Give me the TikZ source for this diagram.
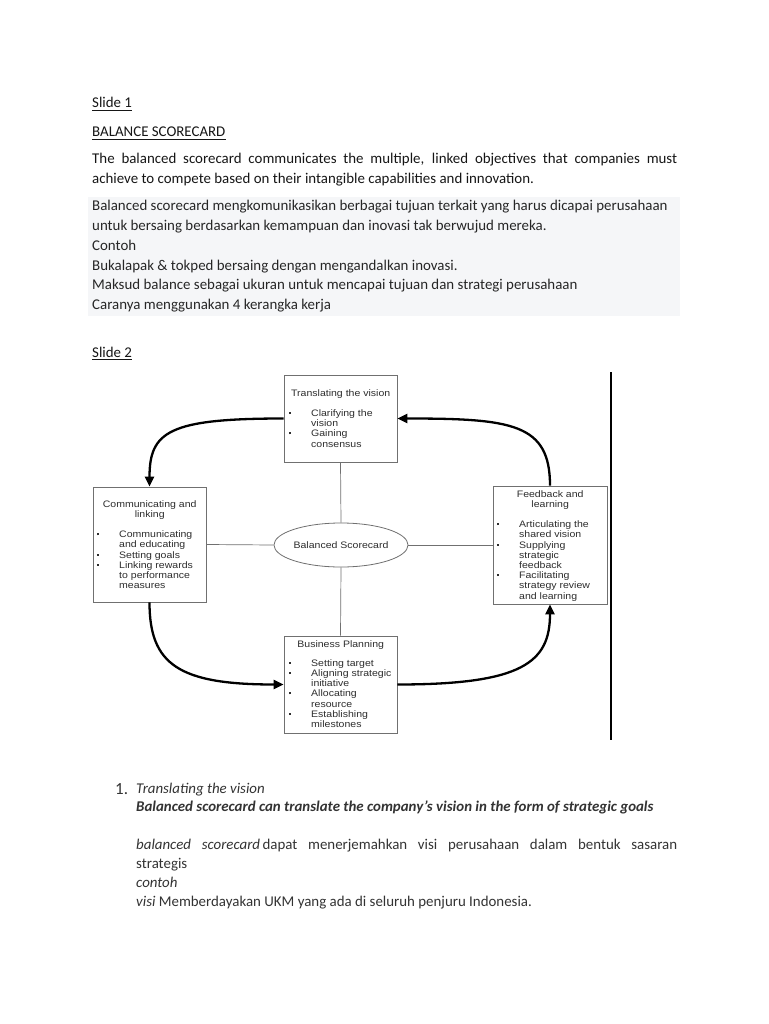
\documentclass[tikz,border=0pt]{standalone}
\usepackage{fontspec}
\setmainfont{Carlito}
\newfontfamily\arialf[FakeStretch=1.12]{Liberation Sans}
\usetikzlibrary{arrows.meta,shapes.geometric}
\definecolor{txt}{HTML}{161616}
\definecolor{txtb}{HTML}{262626}
\definecolor{txtc}{HTML}{333333}
\definecolor{greybg}{HTML}{F5F6F8}
\definecolor{boxline}{HTML}{707070}
\definecolor{dtxt}{HTML}{2E2E2E}
\newcommand\bsbul{\makebox[22pt][l]{\raisebox{2.4pt}{\rule{2.1pt}{2.1pt}}}}
\newcommand\bscont{\hspace*{22pt}}
\newcommand\bstitle[1]{\makebox[\linewidth][c]{#1}}
\newcommand\tightlines{\lineskiplimit=-20pt\relax\lineskip=0pt\relax}
\begin{document}
\begin{tikzpicture}[x=1pt,y=-1pt,
  body/.style={anchor=base west, inner sep=0pt, font=\fontsize{14.9}{19.7}\selectfont, text=txt},
  dbox/.style={draw=boxline, line width=0.8pt, inner sep=0pt, rectangle},
  dtext/.style={anchor=base west, inner sep=0pt, font=\arialf\fontsize{9.4}{10.2}\selectfont, text=dtxt},
  thinline/.style={draw=boxline, line width=0.7pt},
  arr/.style={line width=2.3pt, -{Triangle[length=10pt,width=9pt]}},
  uline/.style={line width=0.8pt, draw=txt}]

\fill[white] (0,0) rectangle (768,1024);
\useasboundingbox (0,0) rectangle (768,1024);

% ---------- Slide 1 ----------
\node[body] (s1) at (92,108) {Slide 1};
\draw[uline] ([yshift=-2.6pt]s1.base west) -- ([yshift=-2.6pt]s1.base east);
\node[body] (bsc) at (92,137) {BALANCE SCORECARD};
\draw[uline] ([yshift=-2.6pt]bsc.base west) -- ([yshift=-2.6pt]bsc.base east);

\node[body] (p1) at (92,164) {\makebox[585pt][s]{The balanced scorecard communicates the multiple, linked objectives that companies must}};
\node[body] (p2) at (92,184) {achieve to compete based on their intangible capabilities and innovation.};

\fill[greybg] (88,197) rectangle (680,316);
\node[body, text=txtb] (g1) at (92,211) {Balanced scorecard mengkomunikasikan berbagai tujuan terkait yang harus dicapai perusahaan};
\node[body, text=txtb] (g2) at (92,231) {untuk bersaing berdasarkan kemampuan dan inovasi tak berwujud mereka.};
\node[body, text=txtb] (g3) at (92,250) {Contoh};
\node[body, text=txtb] (g4) at (92,270) {Bukalapak \& tokped bersaing dengan mengandalkan inovasi.};
\node[body, text=txtb] (g5) at (92,289) {Maksud balance sebagai ukuran untuk mencapai tujuan dan strategi perusahaan};
\node[body, text=txtb] (g6) at (92,309) {Caranya menggunakan 4 kerangka kerja};

% ---------- Slide 2 ----------
\node[body] (s2) at (92,357) {Slide 2};
\draw[uline] ([yshift=-2.6pt]s2.base west) -- ([yshift=-2.6pt]s2.base east);

% boxes
\node[dbox, minimum width=113pt, minimum height=87pt] (tv) at (340.5,418.5) {};
\node[dbox, minimum width=113pt, minimum height=115pt] (cl) at (149.5,544.5) {};
\node[dbox, minimum width=114pt, minimum height=118pt] (fl) at (550,545) {};
\node[dbox, minimum width=113pt, minimum height=97pt] (bp) at (340.5,684.5) {};
\node[draw=boxline, line width=0.8pt, ellipse, minimum width=118pt, minimum height=44pt, inner sep=0pt,
      font=\arialf\fontsize{9.4}{10.2}\selectfont, text=dtxt] (bs) at (341,545) {Balanced Scorecard};

% box texts
\node[dtext] (tvt) at (289,396) {\parbox[t]{103pt}{\tightlines\bstitle{Translating the vision}\\[10.2pt]
\bsbul Clarifying the\\ \bscont vision\\ \bsbul Gaining\\ \bscont consensus}};
\node[dtext] (clt) at (97,507) {\parbox[t]{105pt}{\tightlines\bstitle{Communicating and}\\ \bstitle{linking}\\[10.3pt]
\bsbul Communicating\\ \bscont and educating\\ \bsbul Setting goals\\ \bsbul Linking rewards\\ \bscont to performance\\ \bscont measures}};
\node[dtext] (flt) at (497,497) {\parbox[t]{106pt}{\tightlines\bstitle{Feedback and}\\ \bstitle{learning}\\[10.2pt]
\bsbul Articulating the\\ \bscont shared vision\\ \bsbul Supplying\\ \bscont strategic\\ \bscont feedback\\ \bsbul Facilitating\\ \bscont strategy review\\ \bscont and learning}};
\node[dtext] (bpt) at (289,647) {\parbox[t]{103pt}{\tightlines\bstitle{Business Planning}\\[9pt]
\bsbul Setting target\\ \bsbul Aligning strategic\\ \bscont initiative\\ \bsbul Allocating\\ \bscont resource\\ \bsbul Establishing\\ \bscont milestones}};

% thin connectors
\draw[thinline] (tv.south) -- (bs.north);
\draw[thinline] (bs.south) -- (bp.north);
\draw[thinline] (cl.east) -- (bs.west);
\draw[thinline] (bs.east) -- (fl.west);

% thick arrows
\draw[arr] (tv.west) .. controls +(-115,0) and +(0,-55) .. (cl.north);
\draw[arr] (fl.north) .. controls +(0,-62) and +(115,0) .. (tv.east);
\draw[arr] (cl.south) .. controls +(0,62) and +(-105,0) .. (bp.west);
\draw[arr] (bp.east) .. controls +(125,0) and +(0,58) .. (fl.south);

% vertical bar
\coordinate (vt) at (611,372);
\coordinate (vb) at (611,740);
\draw[line width=2.2pt] (vt) -- (vb);

% ---------- lower text ----------
\node[body, text=txtc, font=\fontsize{17}{19}\selectfont] (n1) at (115,794) {1.};
\node[body, text=txtc] (l1) at (136,793) {\itshape Translating the vision};
\node[body, text=txtc] (l2) at (136,811) {\bfseries\itshape Balanced scorecard can translate the company's vision in the form of strategic goals};
\node[body, text=txtc] (l3) at (136,849) {\makebox[541pt][s]{\textit{balanced scorecard}\,dapat menerjemahkan visi perusahaan dalam bentuk sasaran}};
\node[body, text=txtc] (l4) at (136,868) {strategis};
\node[body, text=txtc] (l5) at (136,887) {\itshape contoh};
\node[body, text=txtc] (l6) at (136,906) {\textit{visi} Memberdayakan UKM yang ada di seluruh penjuru Indonesia.};
\end{tikzpicture}
\end{document}
